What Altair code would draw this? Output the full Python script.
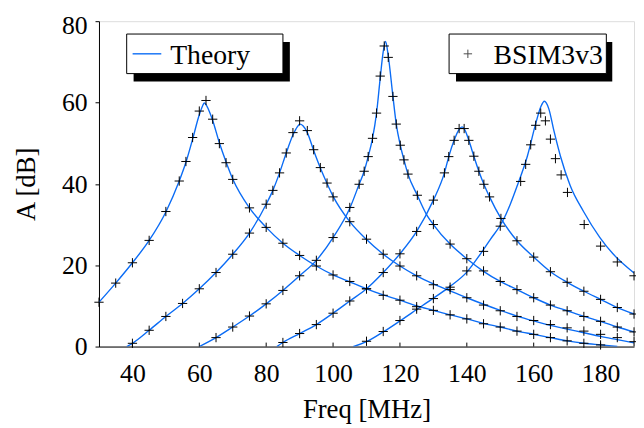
import altair as alt
import pandas as pd

# ---- Theory curves (Freq MHz, A dB) ----
c1_fx = [30, 35, 40, 45, 50, 54, 56, 58, 60, 61, 61.5, 62, 63, 64, 66, 68, 70, 75, 80, 85, 90, 95, 100, 105, 110, 115, 120, 125, 130, 135, 140, 145, 150, 155, 160, 165, 170, 175, 180, 185]
c1_fy = [10.9, 15.6, 20.6, 26.1, 33.1, 40.7, 45.3, 51.0, 57.0, 59.2, 59.9, 59.5, 57.8, 55.6, 50.1, 45.4, 41.2, 34.1, 29.3, 25.4, 22.4, 19.8, 17.6, 15.9, 14.2, 12.7, 11.4, 10.0, 8.9, 7.8, 6.8, 5.7, 4.8, 3.8, 3.0, 2.2, 1.4, 0.8, 0.4, 0.0]

c2_fx = [38.3, 40, 45, 50, 55, 60, 65, 70, 75, 80, 82, 84, 86, 88, 89.3, 90.1, 91, 92.3, 94.2, 96.2, 98.2, 100.1, 105, 110, 115, 120, 125, 130, 135, 140, 145, 150, 155, 160, 165, 170, 175, 180, 185, 190]
c2_fy = [0.0, 0.8, 4.0, 7.4, 10.6, 14.2, 18.2, 22.7, 27.9, 35.0, 38.4, 42.7, 47.6, 52.0, 54.0, 54.7, 54.3, 52.6, 48.2, 43.9, 40.1, 36.8, 30.7, 26.3, 22.7, 19.8, 17.4, 15.4, 13.7, 12.0, 10.4, 8.9, 7.5, 6.3, 5.2, 4.3, 3.4, 2.5, 1.7, 0.9]

c3_fx = [60, 65, 70, 75, 80, 85, 90, 95, 100, 105, 107.8, 109.3, 110.5, 111.8, 113, 114.1, 115, 115.7, 116.5, 117.9, 118.9, 120.1, 121.2, 122.4, 125.2, 128, 130, 135, 140, 145, 150, 155, 160, 165, 170, 175, 180, 185, 190]
c3_fy = [0.0, 2.2, 4.8, 7.5, 10.5, 13.8, 17.4, 21.2, 26.8, 34.0, 39.9, 43.1, 46.7, 51.2, 57.4, 66.0, 72.5, 75.0, 71.5, 61.5, 54.7, 49.5, 45.9, 42.4, 37.2, 32.4, 30.0, 25.2, 21.6, 18.5, 16.0, 14.0, 12.0, 10.2, 8.8, 7.4, 6.2, 4.8, 3.6]

c4_fx = [83.2, 85, 90, 95, 100, 105, 110, 115, 120, 125, 130, 133.3, 134.6, 136.2, 137.7, 138.6, 139.4, 140.6, 142.1, 143.6, 145.1, 146.8, 150.2, 155, 160, 165, 170, 175, 180, 185, 190]
c4_fy = [0.0, 1.0, 3.2, 5.4, 8.2, 11.2, 14.2, 18.2, 22.8, 28.3, 36.0, 42.7, 46.7, 50.7, 53.4, 54.0, 53.3, 50.7, 46.8, 43.1, 39.9, 36.8, 31.5, 26.0, 22.0, 18.4, 15.8, 13.6, 11.6, 9.6, 8.0]

c5_fx = [106, 110, 115, 120, 125, 130, 135, 140, 144.1, 147, 150.7, 153, 155.1, 158.1, 160.6, 162.1, 163.2, 164.5, 166, 168, 170.9, 174.9, 179.8, 183.7, 190]
c5_fy = [0.0, 1.2, 3.6, 6.3, 9.1, 11.9, 14.8, 18.3, 22.8, 26.3, 30.8, 35.0, 39.6, 46.8, 54.8, 58.9, 60.3, 58.5, 53.2, 46.8, 39.6, 33.2, 26.8, 22.8, 18.1]

# ---- BSIM3v3 simulated points ----
b1_fx = [30, 35, 40, 45, 50, 54, 56, 58, 60, 62, 64, 66, 68, 70, 75, 80, 85, 90, 95, 100, 105, 110, 115, 120, 125, 130, 135, 140, 145, 150, 155, 160, 165, 170, 175, 180]
b1_fy = [10.9, 15.6, 20.6, 26.1, 33.2, 40.7, 45.5, 51.4, 57.9, 60.5, 55.9, 49.9, 45.2, 41.1, 34.1, 29.3, 25.4, 22.4, 19.8, 17.6, 16.0, 14.2, 12.6, 11.4, 9.8, 8.9, 7.8, 6.8, 5.6, 4.8, 3.8, 3.0, 2.2, 1.4, 0.8, 0.4]

b2_fx = [40, 45, 50, 55, 60, 65, 70, 75, 80, 82, 84, 86, 88, 90, 92.3, 94.2, 96.2, 98.2, 100, 105, 110, 115, 120, 125, 130, 135, 140, 145, 150, 155, 160, 165, 170, 175, 180, 185, 190]
b2_fy = [0.8, 4.0, 7.4, 10.6, 14.2, 18.2, 22.7, 27.9, 35.0, 38.4, 42.7, 47.6, 52.6, 55.5, 53.1, 48.4, 44.0, 40.2, 36.8, 30.7, 26.4, 22.7, 19.8, 17.4, 15.2, 14.0, 12.0, 10.2, 8.8, 7.4, 6.4, 5.4, 4.6, 3.8, 3.0, 2.2, 1.2]

b3_fx = [65, 70, 75, 80, 85, 90, 95, 100, 105, 107.8, 109.3, 110.5, 111.8, 113, 114.1, 115.3, 116.5, 117.9, 118.9, 120.1, 121.2, 122.4, 125.2, 130, 135, 140, 145, 150, 155, 160, 165, 170, 175, 180, 185, 190]
b3_fy = [2.2, 4.8, 7.5, 10.5, 13.8, 17.4, 21.2, 26.8, 34.2, 39.9, 43.1, 46.7, 51.2, 57.4, 66.5, 73.9, 71.1, 61.5, 54.7, 49.5, 45.9, 42.4, 37.2, 30.0, 25.2, 21.6, 18.6, 16.0, 14.0, 12.0, 10.2, 8.8, 7.4, 6.2, 4.8, 3.6]

b4_fx = [85, 90, 95, 100, 105, 110, 115, 120, 125, 130, 133.3, 134.6, 136.2, 137.7, 139.2, 140.6, 142.1, 143.6, 145.1, 146.8, 150.2, 155, 160, 165, 170, 175, 180, 185, 190]
b4_fy = [1.0, 3.2, 5.4, 8.2, 11.2, 14.2, 18.2, 22.8, 28.3, 36.0, 42.7, 46.7, 50.7, 53.6, 53.6, 50.7, 46.8, 43.1, 39.9, 36.8, 31.5, 26.0, 22.0, 18.4, 15.8, 13.6, 11.6, 9.6, 8.0]

b5_fx = [110, 115, 120, 125, 130, 135, 140, 145, 150, 156.1, 157.6, 159.1, 160.6, 162.1, 163.5, 165, 166.5, 168.2, 170.1, 175.1, 180, 185, 190]
b5_fy = [1.3, 3.7, 6.4, 9.2, 11.8, 14.6, 18.6, 23.4, 29.6, 40.6, 44.8, 49.6, 54.4, 57.4, 55.5, 51.0, 46.2, 42.2, 37.9, 30.0, 24.7, 20.8, 17.4]

x_ticks = [40, 60, 80, 100, 120, 140, 160, 180]
y_ticks = [0, 20, 40, 60, 80]
legend_labels = ["Theory", "BSIM3v3"]

BLUE = "#0b6cf5"
FONT = "Liberation Serif, Times New Roman, serif"

theory = pd.concat([
    pd.DataFrame({"f": fx, "a": fy, "c": i})
    for i, (fx, fy) in enumerate([(c1_fx, c1_fy), (c2_fx, c2_fy), (c3_fx, c3_fy),
                                  (c4_fx, c4_fy), (c5_fx, c5_fy)])
])
bsim = pd.concat([
    pd.DataFrame({"f": fx, "a": fy, "c": i})
    for i, (fx, fy) in enumerate([(b1_fx, b1_fy), (b2_fx, b2_fy), (b3_fx, b3_fy),
                                  (b4_fx, b4_fy), (b5_fx, b5_fy)])
])

W, H = 541, 329

xs = alt.Scale(domain=[30, 190], nice=False, zero=False)
ys = alt.Scale(domain=[0, 80], nice=False)

xax = alt.Axis(values=x_ticks, ticks=False, tickSize=0, grid=False, labelFont=FONT,
               labelFontSize=26, labelColor="black", labelBaseline="alphabetic",
               labelPadding=35, title="Freq [MHz]", titleFont=FONT, titleFontSize=27,
               titleFontWeight="normal", titleColor="black", titleBaseline="alphabetic",
               titleY=72, domainColor="black")
yax = alt.Axis(values=y_ticks, ticks=True, tickSize=4, tickColor="black", grid=False,
               labelFont=FONT, labelFontSize=26, labelColor="black", labelPadding=8,
               labelBaseline="alphabetic",
               labelOffset={"condition": {"test": "datum.value === 80", "value": 12.5},
                            "value": 8.5},
               title="A [dB]", titleFont=FONT, titleFontSize=27, titleFontWeight="normal",
               titleColor="black", titleBaseline="alphabetic", titleX=-65,
               domainColor="black")

plus = "M-1,0L1,0M0,-1L0,1"

lines = alt.Chart(theory).mark_line(color=BLUE, strokeWidth=1.4, interpolate="monotone",
                                    clip=True).encode(
    x=alt.X("f:Q", scale=xs, axis=xax),
    y=alt.Y("a:Q", scale=ys, axis=yax),
    detail="c:N",
)

points = alt.Chart(bsim).mark_point(shape=plus, size=88, stroke="black", strokeWidth=1,
                                    filled=False, opacity=1).encode(
    x=alt.X("f:Q", scale=xs),
    y=alt.Y("a:Q", scale=ys),
)

tick_df = pd.DataFrame({"t": x_ticks})
xticks = alt.Chart(tick_df).mark_rule(color="black", strokeWidth=1).encode(
    x=alt.X("t:Q", scale=xs),
    y=alt.value(H),
    y2=alt.value(H - 4),
)

one = alt.Data(values=[{"k": 0}])

def box(x0, x1, y0, y1, **kw):
    return alt.Chart(one).mark_rect(**kw).encode(
        x=alt.value(x0), x2=alt.value(x1), y=alt.value(y0), y2=alt.value(y1))

shadow1 = box(35, 193, 21, 61, color="black")
box1 = box(28, 186, 13, 53, fill="white", stroke="black", strokeWidth=1)
shadow2 = box(361, 519, 21, 61, color="black")
box2 = box(354, 513, 13, 53, fill="white", stroke="black", strokeWidth=1)

leg_line = alt.Chart(one).mark_rule(color=BLUE, strokeWidth=1.4).encode(
    x=alt.value(34), x2=alt.value(63), y=alt.value(33))
leg_pt = alt.Chart(one).mark_point(shape=plus, size=72, stroke="black", strokeWidth=1,
                                   filled=False).encode(x=alt.value(373), y=alt.value(33))
leg_t1 = alt.Chart(one).mark_text(text=legend_labels[0], font=FONT, fontSize=28,
                                  align="left", baseline="alphabetic", color="black").encode(
    x=alt.value(72), y=alt.value(43))
leg_t2 = alt.Chart(one).mark_text(text=legend_labels[1], font=FONT, fontSize=28,
                                  align="left", baseline="alphabetic", color="black").encode(
    x=alt.value(399), y=alt.value(43))

chart = alt.layer(
    lines, points, xticks, shadow1, box1, shadow2, box2, leg_line, leg_pt, leg_t1, leg_t2
).properties(
    width=W, height=H,
    autosize=alt.AutoSizeParams(type="none"),
    padding={"left": 92, "top": 11, "right": 2, "bottom": 78},
).configure_view(stroke="black", strokeWidth=1).configure(background="white")

chart.save("out.html", embed_options={"renderer": "svg", "actions": False})
